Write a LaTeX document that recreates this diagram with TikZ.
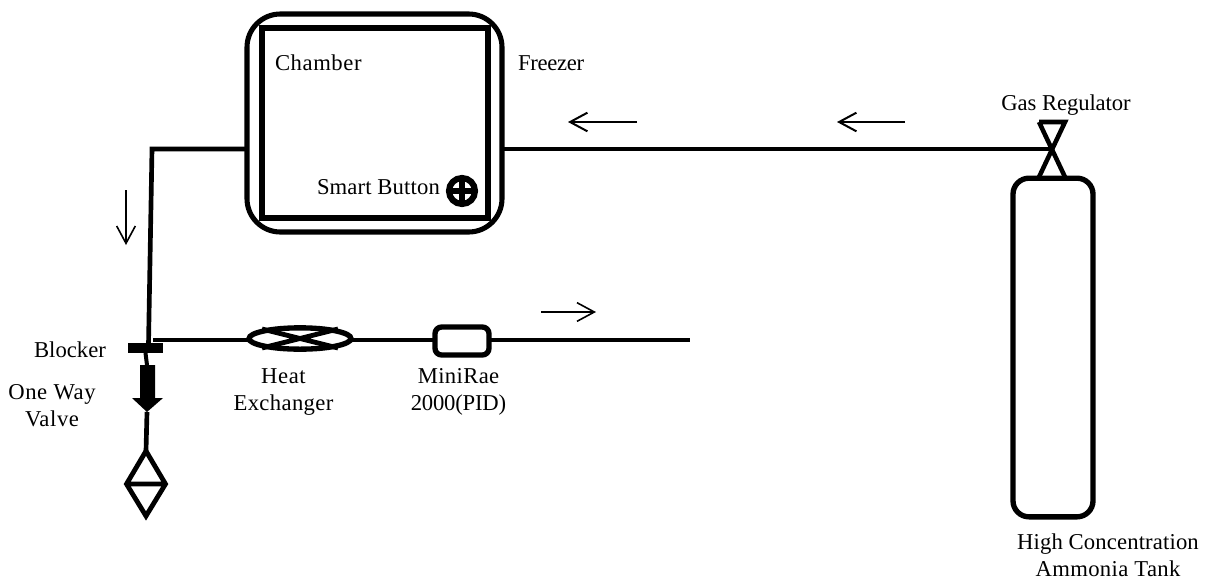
\documentclass[tikz,border=0pt]{standalone}
\usepackage{fontspec}
\setmainfont{Liberation Serif}
\newcommand\lsp[2]{{\addfontfeature{LetterSpace=#1}#2}}
\usetikzlibrary{arrows.meta,shapes.geometric}
\tikzset{
  x=0.75pt,y=-0.75pt,
  pipe/.style={line width=3.5pt,line join=miter},
  flow/.style={line width=1.5pt,-{Straight Barb[length=13pt,width=14pt,line width=1.5pt]}},
  flowthin/.style={line width=1.2pt,-{Straight Barb[length=13pt,width=14pt,line width=1.2pt]}},
  box/.style={draw,line width=3.8pt,rectangle,inner sep=0pt,outer sep=0pt},
  label/.style={font=\fontsize{17}{20.3}\selectfont,inner sep=0pt,outer sep=0pt,align=center},
}
\begin{document}
\begin{tikzpicture}
\useasboundingbox (0,0) rectangle (1213,583);
% freezer and chamber
\node[box,minimum width=191.25pt,minimum height=163.5pt,rounded corners=25pt] (freezer) at (374.5,123) {};
\node[box,line width=4.2pt,minimum width=169.5pt,minimum height=142.5pt] (chamber) at (375,123) {};
\node[box,line width=4.6pt,circle,minimum size=19.5pt] (button) at (462,191) {};
\draw[line width=4pt] (button.north) -- (button.south) (button.west) -- (button.east);
% tank and regulator
\node[box,line width=4pt,minimum width=60pt,minimum height=254pt,rounded corners=12pt] (tank) at (1053,347.5) {};
\coordinate (regc) at (1052,149);
\coordinate (regtl) at (1039,122);
\coordinate (regtr) at (1065,122);
\coordinate (regbl) at (1039,177);
\coordinate (regbr) at (1065,177);
\draw[line width=3.4pt,line join=miter] (regtl) -- (regtr) -- (regbl) (regtl) -- (regbr);
% pipes
\coordinate (feedR) at (503,149);
\draw[pipe] (feedR) -- (regc);
\coordinate (feedL) at (247,149);
\coordinate (corner) at (152,149);
\coordinate (blockin) at (148.5,345);
\draw[pipe] (feedL) -- (corner) -- (blockin);
% blocker
\node[fill=black,inner sep=0pt,outer sep=0pt,minimum width=26pt,minimum height=7.5pt] (blocker) at (145.5,348) {};
% one way valve
\coordinate (vtail) at (147,365);
\coordinate (vtip) at (147,412);
\draw[line width=3pt] (blocker.south) -- (vtail);
\fill (140,365) -- (155,365) -- (155,398) -- (163,398) -- (vtip) -- (132,398) -- (140,398) -- cycle;
% diamond
\coordinate (dt) at (146,451);
\coordinate (dr) at (165.5,484);
\coordinate (db) at (146,516);
\coordinate (dl) at (126.5,484);
\draw[pipe] (vtip) -- (dt);
\draw[line width=3.6pt,line join=miter] (dt) -- (dr) -- (db) -- (dl) -- cycle (dl) -- (dr);
% heat exchanger
\node[draw,line width=4pt,inner sep=0pt,outer sep=0pt,ellipse,minimum width=76.5pt,minimum height=16pt] (hx) at (300,338.5) {};
\coordinate (xa) at (262,329); \coordinate (xb) at (338,348);
\coordinate (xc) at (262,348); \coordinate (xd) at (338,329);
\draw[line width=3.6pt] (xa) -- (xb) (xc) -- (xd);
% minirae
\node[box,line width=4pt,minimum width=40.5pt,minimum height=21pt,rounded corners=5pt] (pid) at (462,341) {};
\coordinate (bstart) at (153,340);
\coordinate (out) at (690,340);
\draw[pipe] (bstart) -- (bstart -| hx.west);
\draw[pipe] (bstart -| hx.east) -- (bstart -| pid.west);
\draw[pipe] (bstart -| pid.east) -- (out);
% flow arrows
\coordinate (a1s) at (637,122); \coordinate (a1e) at (568,122);
\coordinate (a2s) at (905,122); \coordinate (a2e) at (837,122);
\coordinate (a3s) at (126,190); \coordinate (a3e) at (126,245);
\coordinate (a4s) at (541,312); \coordinate (a4e) at (596,312);
\draw[flow] (a1s) -- (a1e);
\draw[flow] (a2s) -- (a2e);
\draw[flowthin] (a3s) -- (a3e);
\draw[flowthin] (a4s) -- (a4e);
% labels
\node[label,anchor=west] (lchamber) at (275,63) {\lsp{2.6}{Chamber}};
\node[label,anchor=west] (lfreezer) at (518,63) {\lsp{-1.4}{Freezer}};
\node[label,anchor=west] (lbutton) at (317,187) {\lsp{0.6}{Smart Button}};
\node[label] (lreg) at (1066,105) {\lsp{-0.4}{Gas Regulator}};
\node[label,anchor=east] (lblock) at (106,350) {\lsp{0.1}{Blocker}};
\node[label] (lvalve) at (52,405.5) {\lsp{2.6}{One Way}\\\lsp{2.6}{Valve}};
\node[label] (lhx) at (283.5,392) {\lsp{2.6}{Heat}\\\lsp{1.6}{Exchanger}};
\node[label] (lpid) at (458.5,392) {\lsp{1.6}{MiniRae}\\\lsp{-0.9}{2000(PID)}};
\node[label] (ltank) at (1108,555.5) {\lsp{0.6}{High Concentration}\\\lsp{1.6}{Ammonia Tank}};
\end{tikzpicture}
\end{document}
